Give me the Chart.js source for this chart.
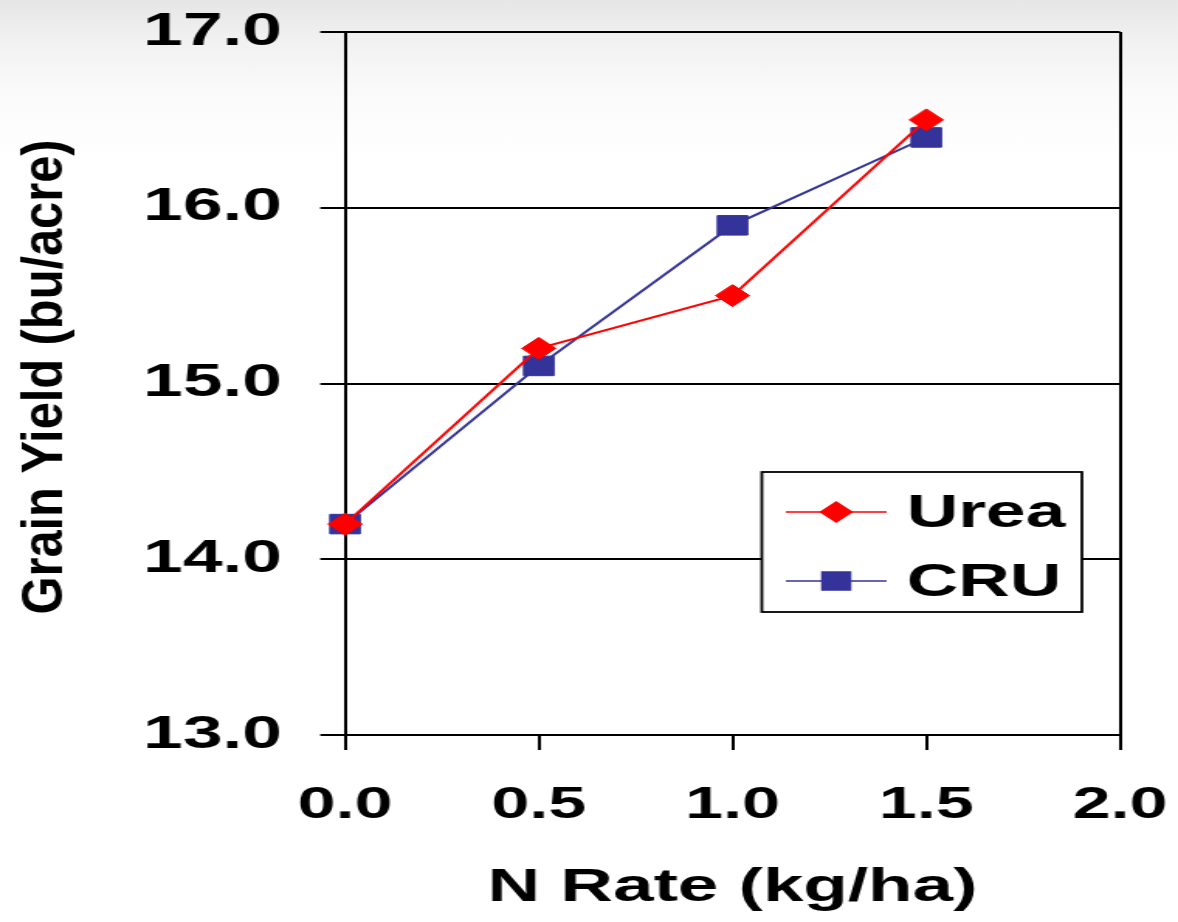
<!DOCTYPE html>
<html>
<head>
<meta charset="utf-8">
<title>Grain Yield vs N Rate</title>
<script src="https://cdn.jsdelivr.net/npm/chart.js"></script>
<style>
    html, body { margin: 0; padding: 0; }
    body {
        width: 1178px; height: 922px; overflow: hidden;
        background: linear-gradient(to bottom, #e6e6e6 0px, #f1f1f1 40px, #fafafa 90px, #ffffff 160px);
    }
    /* the reference picture is stretched sideways, so the canvas is too */
    #yieldChart { display: block; transform: scaleX(1.55); transform-origin: 0 0; }
</style>
</head>
<body>
<canvas id="yieldChart" width="760" height="922"></canvas>
<script>
    // N rate (kg/ha) on the x axis
    const nRates = [0.0, 0.5, 1.0, 1.5];
    // Grain yield (bu/acre) per fertilizer
    const ureaYield = [14.2, 15.2, 15.5, 16.5];
    const cruYield = [14.2, 15.1, 15.9, 16.4];
    const seriesNames = ['Urea', 'CRU'];
    const xTicks = [0.0, 0.5, 1.0, 1.5, 2.0];
    const yTicks = [13.0, 14.0, 15.0, 16.0, 17.0];

    const FONT = '"Liberation Sans", Arial, sans-serif';
    const toPoints = (ys) => nRates.map((x, i) => ({ x: x, y: ys[i] }));

    // y axis title, squeezed along its length like the original
    const yTitle = {
        id: 'yTitle',
        afterDraw(chart) {
            const ctx = chart.ctx;
            const text = 'Grain Yield (bu/acre)';
            ctx.save();
            ctx.font = 'bold 36px ' + FONT;
            const w = ctx.measureText(text).width;
            ctx.translate(27, 377);
            ctx.rotate(-Math.PI / 2);
            ctx.scale(475 / w, 1);
            ctx.fillStyle = '#000';
            ctx.textAlign = 'center';
            ctx.textBaseline = 'alphabetic';
            ctx.fillText(text, 0, 13);
            ctx.restore();
        }
    };

    // boxed legend inside the plot
    const boxLegend = {
        id: 'boxLegend',
        afterDraw(chart) {
            const ctx = chart.ctx;
            ctx.save();
            ctx.fillStyle = '#fff';
            ctx.strokeStyle = '#000';
            ctx.lineWidth = 1.8;
            ctx.fillRect(491.5, 472, 206.5, 140);
            ctx.strokeRect(491.5, 472, 206.5, 140);
            chart.data.datasets.forEach((ds, i) => {
                const y = 512 + i * 69;
                ctx.strokeStyle = ds.borderColor;
                ctx.lineWidth = 1.5;
                ctx.beginPath();
                ctx.moveTo(507, y);
                ctx.lineTo(572, y);
                ctx.stroke();
                ctx.fillStyle = ds.backgroundColor;
                ctx.beginPath();
                const cx = 539.5;
                if (ds.pointStyle === 'rectRot') {
                    const r = ds.pointRadius;
                    ctx.moveTo(cx - r, y);
                    ctx.lineTo(cx, y - r);
                    ctx.lineTo(cx + r, y);
                    ctx.lineTo(cx, y + r);
                    ctx.closePath();
                } else {
                    const h = ds.pointRadius * Math.SQRT1_2;
                    ctx.rect(cx - h, y - h, 2 * h, 2 * h);
                }
                ctx.fill();
                ctx.fillStyle = '#000';
                ctx.font = 'bold 46px ' + FONT;
                ctx.textAlign = 'left';
                ctx.textBaseline = 'middle';
                ctx.fillText(ds.label, 585, y + 2);
            });
            ctx.restore();
        }
    };

    const ctx = document.getElementById('yieldChart').getContext('2d');
    new Chart(ctx, {
        type: 'line',
        data: {
            datasets: [{
                label: seriesNames[0],
                data: toPoints(ureaYield),
                borderColor: '#ff0000',
                backgroundColor: '#ff0000',
                borderWidth: 2,
                pointStyle: 'rectRot',
                pointRadius: 11,
                pointBorderWidth: 1,
                clip: false
            }, {
                label: seriesNames[1],
                data: toPoints(cruYield),
                borderColor: '#333399',
                backgroundColor: '#333399',
                borderWidth: 2,
                pointStyle: 'rect',
                pointRadius: 13.8,
                pointBorderWidth: 1,
                clip: false
            }]
        },
        options: {
            responsive: false,
            animation: false,
            layout: { padding: { left: 0, right: 37.4, top: 32, bottom: 0 } },
            plugins: {
                legend: { display: false },
                tooltip: { enabled: false }
            },
            scales: {
                x: {
                    type: 'linear',
                    min: 0,
                    max: 2,
                    afterBuildTicks: (s) => { s.ticks = xTicks.map(v => ({ value: v })); },
                    afterFit: (s) => { s.height = 187; s.paddingLeft = 0; s.paddingRight = 0; },
                    grid: {
                        // only the right frame edge is drawn across the plot
                        color: (c) => (c.tick && c.tick.value === 2) ? '#000' : 'rgba(0,0,0,0)',
                        tickColor: '#000',
                        lineWidth: 2,
                        tickLength: 15
                    },
                    border: { display: true, color: '#000', width: 2 },
                    ticks: {
                        color: '#000',
                        padding: 29,
                        font: { family: FONT, size: 44, weight: 'bold' },
                        callback: (v) => Number(v).toFixed(1)
                    },
                    title: {
                        display: true,
                        text: 'N Rate (kg/ha)',
                        color: '#000',
                        font: { family: FONT, size: 47, weight: 'bold' },
                        padding: { top: 0, bottom: 6 }
                    }
                },
                y: {
                    min: 13,
                    max: 17,
                    afterBuildTicks: (s) => { s.ticks = yTicks.map(v => ({ value: v })); },
                    afterFit: (s) => { s.width = 222.6; s.paddingTop = 0; s.paddingBottom = 0; },
                    grid: { color: '#000', lineWidth: 2, tickLength: 16 },
                    border: { display: true, color: '#000', width: 2 },
                    ticks: {
                        color: '#000',
                        padding: 24.7,
                        font: { family: FONT, size: 46, weight: 'bold' },
                        callback: (v) => Number(v).toFixed(1)
                    }
                }
            }
        },
        plugins: [yTitle, boxLegend]
    });
</script>
</body>
</html>
